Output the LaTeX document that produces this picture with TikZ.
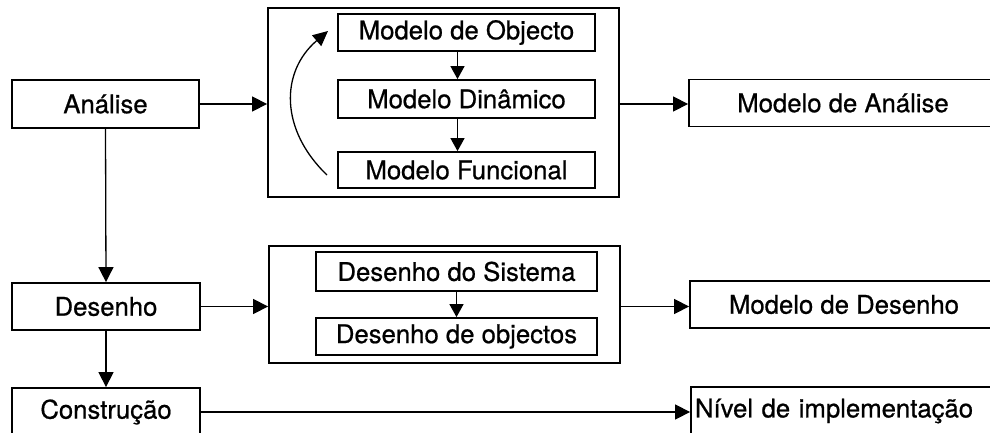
\documentclass[tikz,border=0pt]{standalone}
\usepackage{fontspec}
\setmainfont{TeX Gyre Heros}[FakeBold=0.7]
\usetikzlibrary{arrows.meta,calc}
\begin{document}
\begin{tikzpicture}[x=1pt,y=-1pt,
  box/.style={draw,line width=1.8pt,rectangle,inner sep=0pt,font=\fontsize{25.7}{30}\selectfont},
  frame/.style={draw,line width=1.8pt,rectangle,inner sep=0pt},
  conn/.style={line width=1.3pt,-{Triangle[length=15pt,width=15pt]}},
  iconn/.style={line width=1.3pt,-{Triangle[length=13pt,width=14pt]}}]
\useasboundingbox (0,0) rectangle (990,433);
\begin{scope}
\clip (0,0) rectangle (990,433);
% left column
\node[box,minimum width=187pt,minimum height=48pt] (ana) at (105.5,104) {Análise};
\node[box,minimum width=188pt,minimum height=47pt] (des) at (106,306.5) {Desenho};
\node[box,minimum width=188pt,minimum height=48pt] (con) at (106,412) {Construção};
% group 1
\node[frame,minimum width=351pt,minimum height=189pt] (g1) at (443.5,102.5) {};
\node[box,minimum width=257pt,minimum height=37pt] (obj) at (466.5,32.5) {Modelo de Objecto};
\node[box,minimum width=257pt,minimum height=38pt] (din) at (466.5,99) {Modelo Dinâmico};
\node[box,minimum width=257pt,minimum height=36pt] (fun) at (466.5,170) {Modelo Funcional};
% group 2
\node[frame,minimum width=351pt,minimum height=117pt] (g2) at (444.5,304.5) {};
\node[box,minimum width=281pt,minimum height=39pt] (sis) at (456.5,271.5) {Desenho do Sistema};
\node[box,minimum width=281pt,minimum height=37pt] (obs) at (456.5,336.5) {Desenho de objectos};
% right column
\node[box,minimum width=308pt,minimum height=47pt] (ma) at (843,103) {Modelo de Análise};
\node[box,minimum width=308pt,minimum height=47pt] (md) at (844,304.5) {Modelo de Desenho};
\node[box,minimum height=48pt,text width=300pt,inner xsep=4pt,align=left] (niv) at (845,411) {Nível de implementação};
% connectors
\draw[conn] (ana.south) -- (des.north);
\draw[conn] (des.south) -- (con.north);
\draw[conn] (ana.east) -- (ana.east -| g1.west);
\draw[conn] (des.east) -- (des.east -| g2.west);
\draw[conn] (g1.east |- ana.east) -- (ana.east -| ma.west);
\draw[conn] (g2.east |- des.east) -- (des.east -| md.west);
\draw[conn] (con.east) -- (con.east -| niv.west);
\draw[iconn] ([xshift=-9pt]obj.south) -- ([xshift=-9pt]din.north);
\draw[iconn] ([xshift=-9pt]din.south) -- ([xshift=-9pt]fun.north);
\draw[iconn] (sis.south) -- (obs.north);
\coordinate (cs) at (327,175);
\coordinate (ce) at (328,31);
\draw[line width=1.3pt,-{Triangle[length=15pt,width=14pt]}] (cs) .. controls (280,130) and (280,72) .. (ce);
\end{scope}
\end{tikzpicture}
\end{document}
